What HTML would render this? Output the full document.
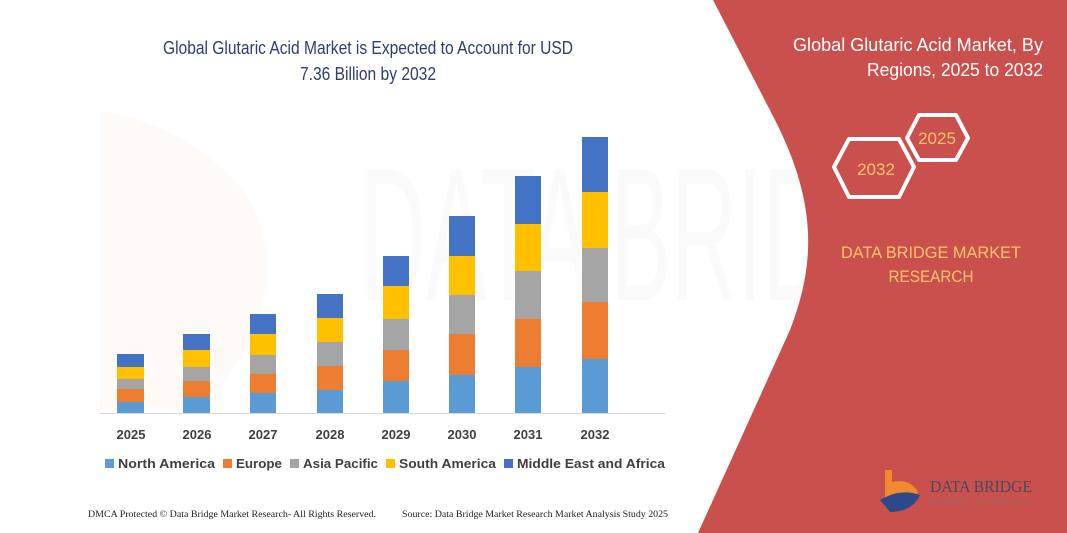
<!DOCTYPE html>
<html><head><meta charset="utf-8"><style>
html,body{margin:0;padding:0;background:#fff;}
svg{display:block;font-family:"Liberation Sans",sans-serif;}
</style></head><body>
<svg width="1067" height="533" viewBox="0 0 1067 533" xmlns="http://www.w3.org/2000/svg">
<rect width="1067" height="533" fill="#fff"/>
<g opacity="0.035" fill="#888">
<text x="360" y="300" font-size="190" textLength="600" lengthAdjust="spacingAndGlyphs">DATA BRIDGE</text>
</g>
<path d="M100,110 L100,410 L200,410 Q300,300 250,200 Q200,130 100,110Z" fill="#f5a060" opacity="0.05"/>
<path d="M713,0 L775,120 C818,205 815,265 790,330 L698,533 L1067,533 L1067,0 Z" fill="#c9504c"/>
<text x="368" y="54" font-size="18" fill="#2e3e6e" text-anchor="middle" textLength="410" lengthAdjust="spacingAndGlyphs">Global Glutaric Acid Market is Expected to Account for USD</text>
<text x="368" y="80" font-size="18" fill="#2e3e6e" text-anchor="middle" textLength="136" lengthAdjust="spacingAndGlyphs">7.36 Billion by 2032</text>
<line x1="100" y1="413.5" x2="665" y2="413.5" stroke="#d9d9d9" stroke-width="1"/>
<g>
<rect x="117" y="402" width="27" height="11" fill="#5b9bd5"/><rect x="117" y="389" width="27" height="13" fill="#ed7d31"/><rect x="117" y="379" width="27" height="10" fill="#a5a5a5"/><rect x="117" y="367" width="27" height="12" fill="#ffc000"/><rect x="117" y="354" width="27" height="13" fill="#4472c4"/>
<rect x="183" y="397" width="27" height="16" fill="#5b9bd5"/><rect x="183" y="381" width="27" height="16" fill="#ed7d31"/><rect x="183" y="367" width="27" height="14" fill="#a5a5a5"/><rect x="183" y="350" width="27" height="17" fill="#ffc000"/><rect x="183" y="334" width="27" height="16" fill="#4472c4"/>
<rect x="250" y="393" width="26" height="20" fill="#5b9bd5"/><rect x="250" y="374" width="26" height="19" fill="#ed7d31"/><rect x="250" y="355" width="26" height="19" fill="#a5a5a5"/><rect x="250" y="334" width="26" height="21" fill="#ffc000"/><rect x="250" y="314" width="26" height="20" fill="#4472c4"/>
<rect x="317" y="390" width="26" height="23" fill="#5b9bd5"/><rect x="317" y="366" width="26" height="24" fill="#ed7d31"/><rect x="317" y="342" width="26" height="24" fill="#a5a5a5"/><rect x="317" y="318" width="26" height="24" fill="#ffc000"/><rect x="317" y="294" width="26" height="24" fill="#4472c4"/>
<rect x="383" y="381" width="26" height="32" fill="#5b9bd5"/><rect x="383" y="350" width="26" height="31" fill="#ed7d31"/><rect x="383" y="319" width="26" height="31" fill="#a5a5a5"/><rect x="383" y="286" width="26" height="33" fill="#ffc000"/><rect x="383" y="256" width="26" height="30" fill="#4472c4"/>
<rect x="449" y="375" width="26" height="38" fill="#5b9bd5"/><rect x="449" y="334" width="26" height="41" fill="#ed7d31"/><rect x="449" y="295" width="26" height="39" fill="#a5a5a5"/><rect x="449" y="256" width="26" height="39" fill="#ffc000"/><rect x="449" y="216" width="26" height="40" fill="#4472c4"/>
<rect x="515" y="367" width="26" height="46" fill="#5b9bd5"/><rect x="515" y="319" width="26" height="48" fill="#ed7d31"/><rect x="515" y="271" width="26" height="48" fill="#a5a5a5"/><rect x="515" y="224" width="26" height="47" fill="#ffc000"/><rect x="515" y="176" width="26" height="48" fill="#4472c4"/>
<rect x="582" y="359" width="26" height="54" fill="#5b9bd5"/><rect x="582" y="302" width="26" height="57" fill="#ed7d31"/><rect x="582" y="248" width="26" height="54" fill="#a5a5a5"/><rect x="582" y="192" width="26" height="56" fill="#ffc000"/><rect x="582" y="137" width="26" height="55" fill="#4472c4"/>
</g>
<g font-size="13" font-weight="bold" fill="#404040" text-anchor="middle">
<text x="131" y="439">2025</text><text x="197" y="439">2026</text><text x="263" y="439">2027</text><text x="330" y="439">2028</text><text x="396" y="439">2029</text><text x="462" y="439">2030</text><text x="528" y="439">2031</text><text x="595" y="439">2032</text>
</g>
<g font-size="13" font-weight="bold" fill="#404040">
<rect x="105" y="459" width="9" height="9" fill="#5b9bd5"/><text x="118" y="468" textLength="97" lengthAdjust="spacingAndGlyphs">North America</text>
<rect x="223" y="459" width="9" height="9" fill="#ed7d31"/><text x="236" y="468" textLength="46" lengthAdjust="spacingAndGlyphs">Europe</text>
<rect x="290" y="459" width="9" height="9" fill="#a5a5a5"/><text x="303" y="468" textLength="75" lengthAdjust="spacingAndGlyphs">Asia Pacific</text>
<rect x="386" y="459" width="9" height="9" fill="#ffc000"/><text x="399" y="468" textLength="97" lengthAdjust="spacingAndGlyphs">South America</text>
<rect x="504" y="459" width="9" height="9" fill="#4472c4"/><text x="517" y="468" textLength="148" lengthAdjust="spacingAndGlyphs">Middle East and Africa</text>
</g>
<g font-family="Liberation Serif,serif" font-size="9.5" fill="#222">
<text x="88" y="517" textLength="288" lengthAdjust="spacingAndGlyphs">DMCA Protected © Data Bridge Market Research- All Rights Reserved.</text>
<text x="402" y="517" textLength="266" lengthAdjust="spacingAndGlyphs">Source: Data Bridge Market Research Market Analysis Study 2025</text>
</g>
<g fill="#fff" font-size="18" text-anchor="end">
<text x="1043" y="51" textLength="250" lengthAdjust="spacingAndGlyphs">Global Glutaric Acid Market, By</text>
<text x="1043" y="76" textLength="176" lengthAdjust="spacingAndGlyphs">Regions, 2025 to 2032</text>
</g>
<polygon points="907,138 919,115 956,115 968,138 956,160 919,160" fill="none" stroke="#fff" stroke-width="4" stroke-linejoin="round"/>
<polygon points="834,167 849,139 899,139 914,167 899,197 849,197" fill="none" stroke="#fff" stroke-width="4" stroke-linejoin="round"/>
<text x="937" y="144" font-size="17" fill="#ffc46b" text-anchor="middle">2025</text>
<text x="876" y="175" font-size="17" fill="#ffc46b" text-anchor="middle">2032</text>
<g fill="#ffc46b" font-size="17" text-anchor="middle">
<text x="931" y="258" textLength="180" lengthAdjust="spacingAndGlyphs">DATA BRIDGE MARKET</text>
<text x="931" y="282" textLength="85" lengthAdjust="spacingAndGlyphs">RESEARCH</text>
</g>
<path d="M885,470 L892,470 L892,482 Q910,478 918,492 Q915,505 895,507 L885,507 Z" fill="#f08a30"/>
<path d="M880,500 Q900,488 920,495 Q912,512 890,512 Z" fill="#2c4a8a"/>
<text x="930" y="492" font-family="Liberation Serif,serif" font-size="17" fill="#4a4a5a" textLength="102" lengthAdjust="spacingAndGlyphs">DATA BRIDGE</text>
<text x="930" y="504" font-size="6" fill="#777" textLength="100" lengthAdjust="spacing">MARKET RESEARCH</text>
</svg>
</body></html>
